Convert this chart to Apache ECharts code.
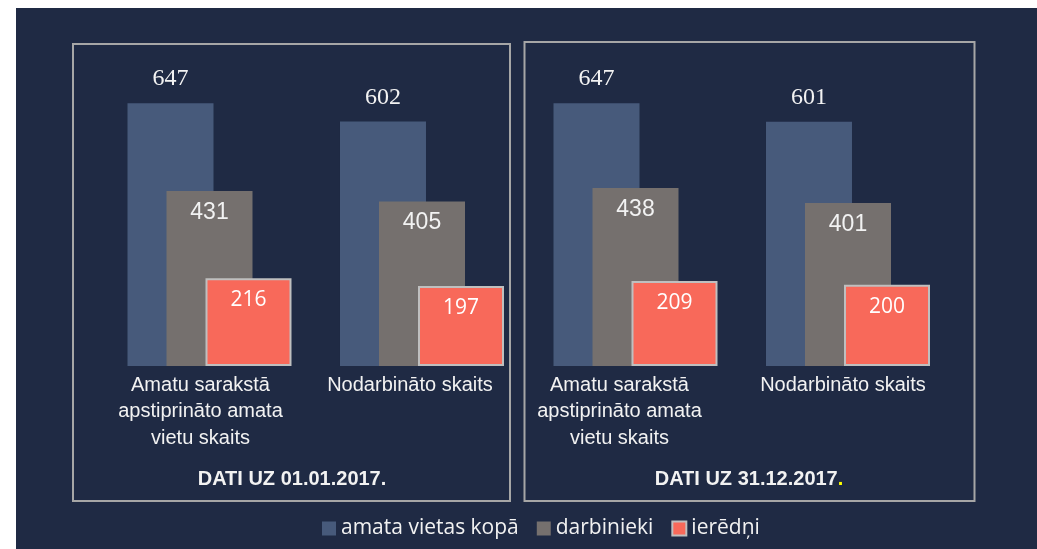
<!DOCTYPE html>
<html>
<head>
<meta charset="utf-8">
<script src="https://cdn.jsdelivr.net/npm/echarts@6/dist/echarts.min.js"></script>
<style>
html,body{margin:0;padding:0;background:#ffffff;}
#chart{width:1037px;height:549px;}
</style>
</head>
<body>
<div id="chart"></div>
<script>
const categories = ['Amatu sarakstā\napstiprināto amata\nvietu skaits', 'Nodarbināto skaits'];
const seriesNames = ['amata vietas kopā', 'darbinieki', 'ierēdņi'];
const panelTitles = ['DATI UZ 01.01.2017', 'DATI UZ 31.12.2017'];
const totalStart = [647, 602];
const employeesStart = [431, 405];
const officialsStart = [216, 197];
const totalEnd = [647, 601];
const employeesEnd = [438, 401];
const officialsEnd = [209, 200];

const BG = '#1f2a44';
const colors = ['#475a7b', '#75706e', '#f8695a'];
const txt = '#f2f2f2';
const SANS = 'Liberation Sans, Arial, sans-serif';

// per-panel horizontal nudge of category labels (pixels to the left)
const labelShift = [[9, 12], [16, 5]];

function makeXAxis(idx) {
  const base = {fontFamily: SANS, fontSize: 20, lineHeight: 26.5, color: txt};
  const rich = {
    k0: Object.assign({padding: [0, labelShift[idx][0] * 2, 0, 0]}, base),
    k1: Object.assign({padding: [0, labelShift[idx][1] * 2, 0, 0]}, base)
  };
  return {
    type: 'category',
    gridIndex: idx,
    data: categories,
    axisLine: {show: false},
    axisTick: {show: false},
    splitLine: {show: false},
    axisLabel: {
      margin: 6,
      interval: 0,
      color: txt,
      fontSize: 20,
      lineHeight: 26.5,
      fontFamily: SANS,
      formatter: function (v, i) {
        return v.split('\n').map(function (l) { return '{k' + i + '|' + l + '}'; }).join('\n');
      },
      rich: rich
    }
  };
}

function makeYAxis(idx) {
  return {type: 'value', gridIndex: idx, min: 0, max: 800, show: false, splitLine: {show: false}};
}

const labelBlue = {show: true, position: 'top', distance: 12, color: txt, fontFamily: 'Liberation Serif, serif', fontSize: 24};
const labelGray = {show: true, position: 'insideTop', distance: 10, color: txt, fontFamily: SANS, fontSize: 23};
const labelRed = {show: true, position: 'insideTop', distance: 11.5, color: '#ffffff', fontFamily: 'Open Sans, sans-serif', fontSize: 21};

function makeSeries(idx, a, b, c) {
  const common = {type: 'bar', xAxisIndex: idx, yAxisIndex: idx, barWidth: 86, barGap: '-54.65%', animation: false};
  return [
    Object.assign({}, common, {name: seriesNames[0], data: a, itemStyle: {color: colors[0]}, label: labelBlue}),
    Object.assign({}, common, {name: seriesNames[1], data: b, itemStyle: {color: colors[1]}, label: labelGray}),
    Object.assign({}, common, {name: seriesNames[2], data: c, itemStyle: {color: colors[2], borderColor: '#bfbfbf', borderWidth: 2}, label: labelRed})
  ];
}

const chart = echarts.init(document.getElementById('chart'), null, {renderer: 'canvas'});
chart.setOption({
  backgroundColor: '#ffffff',
  animation: false,
  grid: [
    {left: 103.25, width: 425, top: 41, bottom: 183},
    {left: 529.25, width: 425, top: 41, bottom: 183}
  ],
  xAxis: [makeXAxis(0), makeXAxis(1)],
  yAxis: [makeYAxis(0), makeYAxis(1)],
  legend: {
    data: seriesNames,
    left: 317,
    top: 513,
    itemWidth: 14,
    itemHeight: 14,
    itemGap: 18,
    icon: 'rect',
    textStyle: {color: txt, fontFamily: 'Open Sans, sans-serif', fontSize: 21}
  },
  graphic: [
    {type: 'rect', z: -100, silent: true, shape: {x: 16, y: 8, width: 1021, height: 541}, style: {fill: BG}},
    {type: 'rect', z: -50, silent: true, shape: {x: 73, y: 44, width: 437, height: 457}, style: {fill: 'none', stroke: '#a6a6a6', lineWidth: 2}},
    {type: 'rect', z: -50, silent: true, shape: {x: 524.5, y: 42, width: 450, height: 459}, style: {fill: 'none', stroke: '#a6a6a6', lineWidth: 2}},
    {type: 'text', x: 292, y: 479, style: {text: '{t|' + panelTitles[0] + '.}', align: 'center', verticalAlign: 'middle',
      rich: {t: {fill: txt, fontFamily: SANS, fontWeight: 'bold', fontSize: 20}}}},
    {type: 'text', x: 749, y: 479, style: {text: '{t|' + panelTitles[1] + '}{y|.}', align: 'center', verticalAlign: 'middle',
      rich: {t: {fill: txt, fontFamily: SANS, fontWeight: 'bold', fontSize: 20},
             y: {fill: '#ffff00', fontFamily: SANS, fontWeight: 'bold', fontSize: 20}}}}
  ],
  series: [].concat(
    makeSeries(0, totalStart, employeesStart, officialsStart),
    makeSeries(1, totalEnd, employeesEnd, officialsEnd)
  )
});
</script>
</body>
</html>
